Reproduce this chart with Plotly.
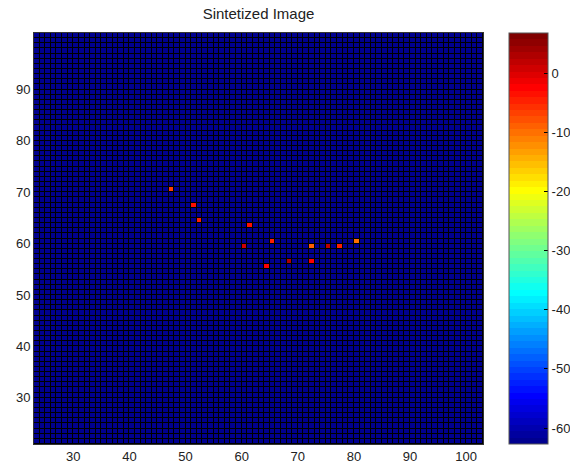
import numpy as np
import plotly.graph_objects as go

# Grid extent (cell edges) of the synthesized image
x_edges = (23, 103)
y_edges = (21, 101)

# Background level and colour limits
background_level = -62.7
color_min = -62.7
color_max = 6.8

# Bright scatterers: lower-left corner of each cell and its level (dB)
peak_x = [47, 51, 52, 61, 65, 60, 72, 75, 77, 80, 68, 72, 64]
peak_y = [70, 67, 64, 63, 60, 59, 59, 59, 59, 60, 56, 56, 55]
peak_value = [-7, -3, -5, -3, -5, 1, -9, 2, -5, -10, 3, -2, -2]

x_ticks = [30, 40, 50, 60, 70, 80, 90, 100]
y_ticks = [30, 40, 50, 60, 70, 80, 90]
cbar_ticks = [-60, -50, -40, -30, -20, -10, 0]


def jet_scale(n=64):
    """Stepped jet colour scale with n bands."""
    cols = []
    for i in range(n):
        t = (i + 1) / n
        r = np.clip(1.5 - abs(4 * t - 3), 0, 1)
        g = np.clip(1.5 - abs(4 * t - 2), 0, 1)
        b = np.clip(1.5 - abs(4 * t - 1), 0, 1)
        cols.append(f"rgb({int(round(r*255))},{int(round(g*255))},{int(round(b*255))})")
    scale = []
    for i, c in enumerate(cols):
        scale.append([i / n, c])
        scale.append([(i + 1) / n, c])
    return scale


xc = np.arange(x_edges[0], x_edges[1]) + 0.5
yc = np.arange(y_edges[0], y_edges[1]) + 0.5
z = np.full((len(yc), len(xc)), background_level)
for px, py, v in zip(peak_x, peak_y, peak_value):
    z[py - y_edges[0], px - x_edges[0]] = v

font = dict(family="Liberation Sans, Arial, sans-serif", size=13, color="#222")

fig = go.Figure(
    go.Heatmap(
        x=xc,
        y=yc,
        z=z,
        zmin=color_min,
        zmax=color_max,
        colorscale=jet_scale(64),
        xgap=1,
        ygap=1,
        hoverongaps=False,
        colorbar=dict(
            x=(508.5 - 34) / 449,
            xanchor="left",
            y=0.5,
            yanchor="middle",
            len=411,
            lenmode="pixels",
            thickness=39,
            thicknessmode="pixels",
            outlinecolor="#555",
            outlinewidth=1,
            tickvals=cbar_ticks,
            ticktext=[str(t) for t in cbar_ticks],
            ticks="inside",
            ticklen=4,
            tickcolor="black",
            ticklabelposition="outside",
            tickfont=font,
            xpad=0,
            ypad=0,
        ),
    )
)

axis_common = dict(
    showgrid=False,
    zeroline=False,
    showline=True,
    mirror=True,
    linecolor="#333",
    linewidth=1,
    ticks="",
    tickfont=font,
)

fig.update_layout(
    width=570,
    height=469,
    margin=dict(l=34, r=87, t=33, b=25, autoexpand=False),
    paper_bgcolor="white",
    plot_bgcolor="black",
    title=dict(
        text="Sintetized Image",
        x=(34 + 483) / 2 / 570,
        xanchor="center",
        y=1 - 14 / 469,
        yanchor="middle",
        font=dict(family="Liberation Sans, Arial, sans-serif", size=15, color="#222"),
    ),
    xaxis=dict(range=list(x_edges), tickvals=x_ticks, **axis_common),
    yaxis=dict(range=list(y_edges), tickvals=y_ticks, **axis_common),
)

fig.write_html("out.html")
